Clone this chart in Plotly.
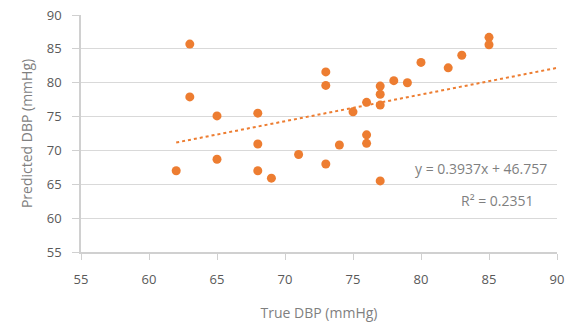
import plotly.graph_objects as go
import numpy as np

true_dbp = [63, 63, 65, 68, 68, 65, 62, 68, 69,
            73, 73, 77, 77, 78, 79, 76, 77, 75, 76, 76, 74, 71, 73, 77,
            80, 82, 83, 85, 85]
pred_dbp = [85.7, 77.9, 75.1, 75.5, 70.95, 68.7, 67.0, 67.0, 65.9,
            81.6, 79.6, 79.5, 78.3, 80.3, 80.0, 77.1, 76.7, 75.7, 72.3, 71.05, 70.8, 69.4, 68.0, 65.5,
            83.0, 82.2, 84.05, 86.7, 85.6]

slope = 0.3937
intercept = 46.757
r2 = 0.2351
axis_ticks = [55, 60, 65, 70, 75, 80, 85, 90]

orange = "#ED7D31"
font_family = "'Open Sans', Lato, sans-serif"

trend_x = np.linspace(min(true_dbp), 90, 50)
trend_y = slope * trend_x + intercept

fig = go.Figure()
fig.add_trace(go.Scatter(x=trend_x, y=trend_y, mode="lines",
                         line=dict(color=orange, width=2, dash="dot"),
                         hoverinfo="skip", showlegend=False))
fig.add_trace(go.Scatter(x=true_dbp, y=pred_dbp, mode="markers",
                         marker=dict(color=orange, size=9, line=dict(width=0)),
                         showlegend=False))

fig.add_annotation(x=481, y=168, xref="paper", yref="paper",
                   text=f"y = {slope}x + {intercept:.3f}", showarrow=False)
fig.add_annotation(x=497, y=200, xref="paper", yref="paper",
                   text=f"R² = {r2}", showarrow=False)

W, H = 568, 326
ml, mr, mt, mb = 81, 11, 15, 74
pw, ph = W - ml - mr, H - mt - mb
for a in fig.layout.annotations:
    a.x = (a.x - ml) / pw
    a.y = 1 - (a.y - mt) / ph
    a.xanchor = "center"
    a.yanchor = "middle"
    a.font = dict(family=font_family, size=14, color="#7f7f7f")

fig.update_layout(
    width=W, height=H,
    margin=dict(l=ml, r=mr, t=mt, b=mb, autoexpand=False),
    plot_bgcolor="white", paper_bgcolor="white",
    font=dict(family=font_family, size=13, color="#595959"),
    xaxis=dict(range=[55, 90], tickvals=axis_ticks, showgrid=False,
               showline=True, linecolor="#d0d0d0", linewidth=1.5,
               ticks="outside", ticklen=6, tickcolor="#d0d0d0",
               zeroline=False, automargin=False, ticklabelstandoff=9,
               title=dict(text="True DBP (mmHg)", standoff=21,
                          font=dict(size=14, color="#7f7f7f"))),
    yaxis=dict(range=[55, 90], tickvals=axis_ticks, showgrid=True,
               gridcolor="#d9d9d9", gridwidth=1,
               showline=True, linecolor="#d0d0d0", linewidth=1.5,
               ticks="outside", ticklen=7, tickcolor="#d0d0d0",
               zeroline=False, ticklabelstandoff=8, automargin=False,
               title=dict(text="Predicted DBP (mmHg)", standoff=11,
                          font=dict(size=14, color="#7f7f7f"))),
)

fig.write_html("out.html")
